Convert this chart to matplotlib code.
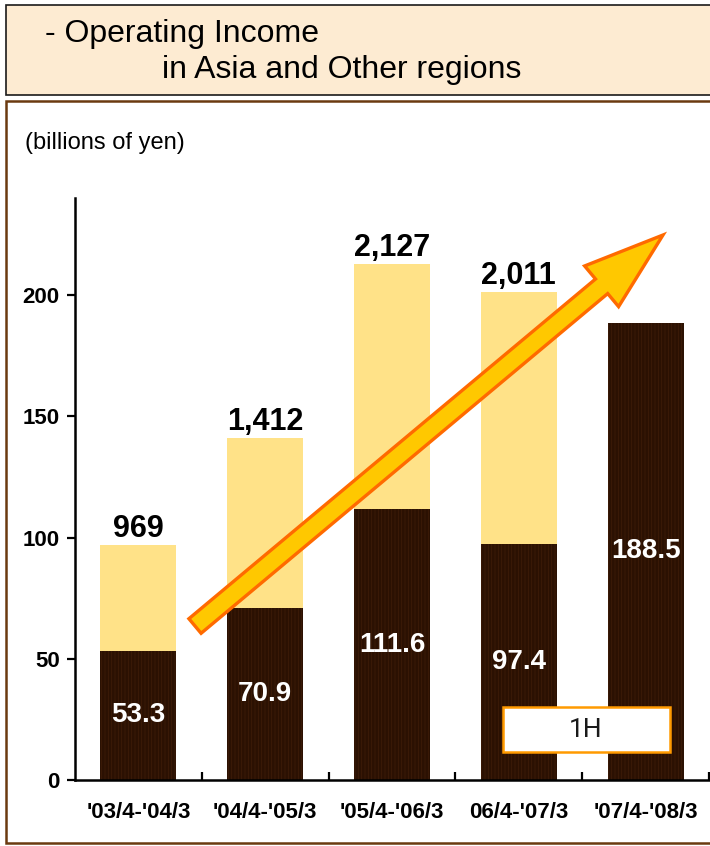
import matplotlib
matplotlib.use("Agg")
import matplotlib.pyplot as plt
from matplotlib.patches import Rectangle, Polygon
import numpy as np

# ---- data ----
categories = ["'03/4-'04/3", "'04/4-'05/3", "'05/4-'06/3", "06/4-'07/3", "'07/4-'08/3"]
first_half = [53.3, 70.9, 111.6, 97.4, 188.5]
full_year = [96.9, 141.2, 212.7, 201.1, None]
full_year_labels = ["969", "1,412", "2,127", "2,011", None]
y_ticks = [0, 50, 100, 150, 200]

plt.rcParams["hatch.linewidth"] = 0.6

W, H = 710, 846
fig = plt.figure(figsize=(W / 100, H / 100), dpi=100)
fig.patch.set_facecolor("white")

def px_rect(x0, y0, x1, y1):
    return (x0 / W, 1 - y1 / H, (x1 - x0) / W, (y1 - y0) / H)

# title box
x, y, w, h = px_rect(6, 5, 730, 95)
fig.patches.append(Rectangle((x, y), w, h, transform=fig.transFigure,
                             facecolor="#FDEBD2", edgecolor="#1a1a1a", lw=1.2, zorder=-2))
# panel box
x, y, w, h = px_rect(6, 101, 730, 843)
fig.patches.append(Rectangle((x, y), w, h, transform=fig.transFigure,
                             facecolor="white", edgecolor="#6B3A10", lw=1.8, zorder=-2))

title_font = ["Liberation Sans", "DejaVu Sans"]
fig.text(45 / W, 1 - 34 / H, "- Operating Income", fontsize=23, family=title_font,
         va="center", ha="left", color="black")
fig.text(162 / W, 1 - 70 / H, "in Asia and Other regions", fontsize=23, family=title_font,
         va="center", ha="left", color="black")

base_font = ["Liberation Sans", "DejaVu Sans"]
fig.text(25 / W, 1 - 143 / H, "(billions of yen)", fontsize=17, family=base_font,
         va="center", ha="left", color="black")

# axes
ax = fig.add_axes([75 / W, 1 - 780 / H, (709 - 75) / W, (780 - 198) / H])
ax.set_zorder(1)
ax.set_facecolor("none")
xpos = np.arange(len(categories))
light = [t - d if t is not None else 0 for t, d in zip(full_year, first_half)]

ax.bar(xpos, first_half, width=0.6, color="#2B1102", edgecolor="#3E1C08",
       linewidth=0, hatch="|||||", zorder=2)
ax.bar(xpos, light, width=0.6, bottom=first_half, color="#FFE288",
       linewidth=0, zorder=2)

for i, v in enumerate(first_half):
    ax.text(i, v / 2, f"{v:.1f}", ha="center", va="center", color="white",
            fontsize=20, fontweight="bold", family=base_font, zorder=5)
for i, (t, lab) in enumerate(zip(full_year, full_year_labels)):
    if t is not None:
        ax.text(i, t + 3.3, lab, ha="center", va="baseline", color="black",
                fontsize=22, fontweight="bold", family=base_font, zorder=5)

ax.set_xlim(-0.5, 4.5)
ax.set_ylim(0, 240)
ax.set_yticks(y_ticks)
ax.set_yticklabels([str(t) for t in y_ticks], fontsize=16, fontweight="bold", family=base_font)
ax.set_xticks(xpos)
ax.set_xticklabels(categories, fontsize=16, fontweight="bold", family=base_font)
ax.set_xticks(np.arange(len(categories)) + 0.5, minor=True)
ax.tick_params(axis="x", which="major", length=0, pad=16)
ax.tick_params(axis="x", which="minor", direction="in", length=6, width=1.6)
ax.tick_params(axis="y", which="major", direction="out", length=6, width=1.6, pad=5)
for s in ["top", "right"]:
    ax.spines[s].set_visible(False)
for s in ["left", "bottom"]:
    ax.spines[s].set_linewidth(1.8)

# 1H box
x, y, w, h = px_rect(503, 707, 670, 752)
fig.patches.append(Rectangle((x, y), w, h, transform=fig.transFigure,
                             facecolor="white", edgecolor="#FF9A00", lw=1.8, zorder=6))
fig.text(586 / W, 1 - 730 / H, "1H", fontsize=19, family=["Roboto", "DejaVu Sans"],
         ha="center", va="center", color="#1a1a1a", zorder=7)

# trend arrow (decoration, pixel geometry)
tail = np.array([195.0, 626.0])
tip = np.array([663.0, 235.0])
d = tip - tail
u = d / np.hypot(*d)
n = np.array([-u[1], u[0]])
sw, hw, hl = 9.5, 26.5, 80.0
neck = tip - hl * u
pts = [tail + sw * n, neck + sw * n, neck + hw * n, tip,
       neck - hw * n, neck - sw * n, tail - sw * n]
pts_fig = [(p[0] / W, 1 - p[1] / H) for p in pts]
fig.patches.append(Polygon(pts_fig, closed=True, transform=fig.transFigure,
                           facecolor="#FFC800", edgecolor="#FF6A00", lw=2.4,
                           joinstyle="miter", zorder=4))

fig.savefig("out.png", dpi=100)
